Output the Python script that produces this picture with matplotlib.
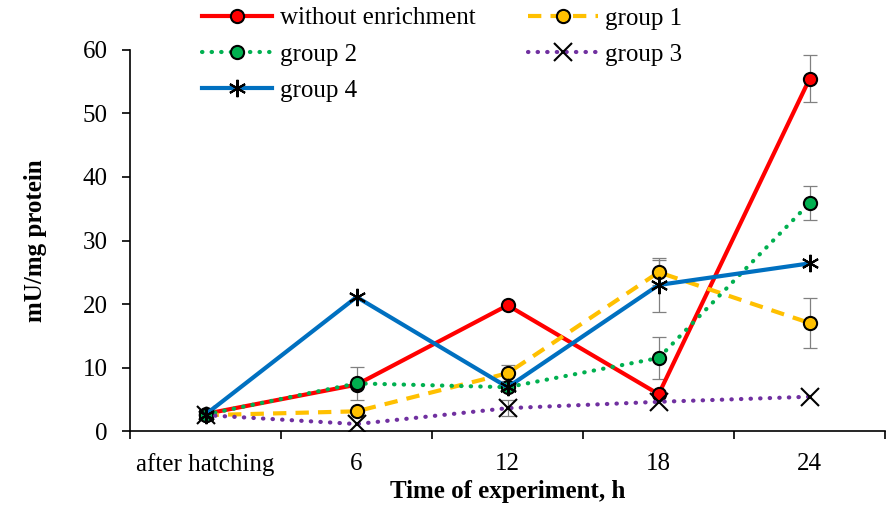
import numpy as np
import matplotlib.pyplot as plt

plt.rcParams['font.family'] = ['Liberation Serif', 'DejaVu Serif']

categories = ['after hatching', '6', '12', '18', '24']

without_enrichment = [2.7, 7.3, 19.8, 5.8, 55.5]
group1 = [2.5, 3.1, 9.1, 25.0, 17.0]
group2 = [2.6, 7.5, 6.9, 11.5, 35.9]
group3 = [2.5, 1.1, 3.6, 4.6, 5.4]
group4 = [2.6, 21.1, 6.9, 23.0, 26.4]

# error bars (0 = none drawn)
err_without = [0, 0, 0, 0, 3.7]
err_group1 = [0, 0, 1.3, 2.0, 3.9]
err_group2 = [0, 2.6, 0, 3.3, 2.7]
err_group3 = [0, 0, 1.3, 0, 0]
err_group4 = [0, 0, 0, 4.2, 0]

fig = plt.figure(figsize=(8.87, 5.09), dpi=100)
ax = fig.add_axes([0.1466, 0.1532, 0.8514, 0.7486])
x = np.arange(len(categories))

series = [
    ('without enrichment', without_enrichment, err_without,
     dict(color='#FF0000', linestyle='-', marker='o', mfc='#FF0000')),
    ('group 1', group1, err_group1,
     dict(color='#FFC000', linestyle=(0, (3.2, 2.2)), marker='o', mfc='#FFC000')),
    ('group 2', group2, err_group2,
     dict(color='#00B050', linestyle=(0, (0.1, 2.2)), dash_capstyle='round', marker='o', mfc='#00B050')),
    ('group 3', group3, err_group3,
     dict(color='#7030A0', linestyle=(0, (0.1, 2.2)), dash_capstyle='round', marker='x')),
    ('group 4', group4, err_group4,
     dict(color='#0070C0', linestyle='-', marker=(6, 2, 0))),
]

handles = {}
for name, vals, errs, style in series:
    vals = np.array(vals)
    errs = np.array(errs)
    m = errs > 0
    ax.errorbar(x[m], vals[m], yerr=errs[m], fmt='none', ecolor='#808080',
                elinewidth=0.9, capsize=5, capthick=0.9, zorder=1)
    line, = ax.plot(x, vals, linewidth=3, markersize=12.5 if style['marker'] != 'o' else 9.5,
                    mec='black', mew=1.5, label=name, zorder=2, **style)
    handles[name] = line

ax.set_xlim(-0.5, 4.5)
ax.set_ylim(0, 60)
ax.set_yticks(range(0, 61, 10))
ax.set_xticks(x)
ax.set_xticklabels(categories)
ax.set_xticks(np.arange(-0.5, 4.6, 1), minor=True)
ax.tick_params(axis='x', which='major', length=0, labelsize=18, pad=16)
ax.tick_params(axis='x', which='minor', length=6, width=1.2, direction='out')
ax.tick_params(axis='y', labelsize=18, length=6, width=1.2, direction='out', pad=10)
for s in ['top', 'right']:
    ax.spines[s].set_visible(False)
ax.spines['left'].set_linewidth(1.2)
ax.spines['bottom'].set_linewidth(1.2)

ax.set_xlabel('Time of experiment, h', fontsize=18, fontweight='bold', labelpad=3)
ax.set_ylabel('mU/mg protein', fontsize=18, fontweight='bold', labelpad=26)

order = ['without enrichment', 'group 2', 'group 4', 'group 1', 'group 3']
fig.legend([handles[k] for k in order], order, ncol=2, frameon=False, fontsize=18,
           loc='upper left', bbox_to_anchor=(202 / 887, 1 - 7 / 509),
           borderaxespad=0, borderpad=0, handlelength=2.8,
           columnspacing=2.1, labelspacing=0.55, handletextpad=0.3)

fig.savefig('out.png', dpi=100)
